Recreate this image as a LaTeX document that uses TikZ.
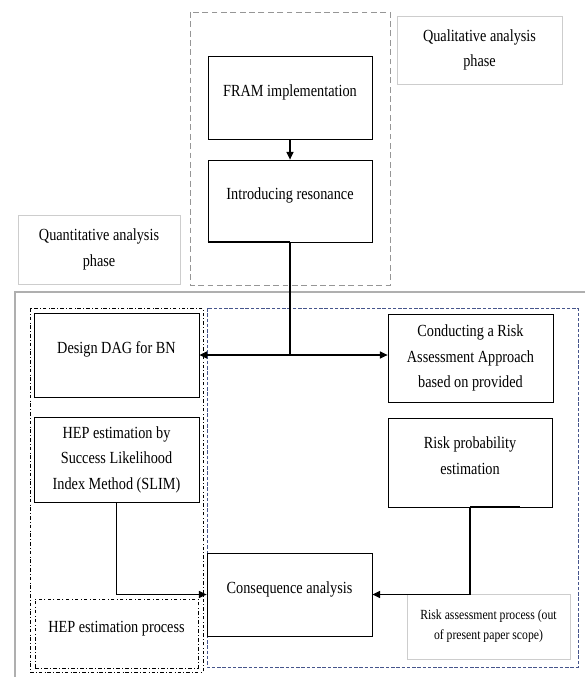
\documentclass[tikz,border=0pt]{standalone}
\usepackage{fontspec}
\setmainfont{Liberation Serif}[FakeStretch=0.84]
\usetikzlibrary{calc, arrows.meta}
\definecolor{framegray}{RGB}{150,150,150}
\definecolor{tagline}{RGB}{205,205,205}
\definecolor{outerline}{RGB}{175,175,175}
\definecolor{riskblue}{RGB}{70,85,140}

\begin{document}
\begin{tikzpicture}[x=0.03cm, y=-0.03cm,
    stepbox/.style={draw, line width=0.7pt, align=center, inner sep=2pt,
        font=\fontsize{14.5}{21.8}\selectfont},
    lift/.style={text depth=12pt},
    tagbox/.style={draw=tagline, line width=0.5pt, align=center, inner sep=2pt,
        font=\fontsize{14.5}{21.8}\selectfont},
    arr/.style={-{Triangle[length=6.5pt,width=6pt]}, line width=0.9pt}]
    \useasboundingbox (0,0) rectangle (585,677);
    \draw[framegray, dash pattern=on 5pt off 3pt, line width=0.8pt] (190,12) rectangle (390,285);
    \draw[outerline, line width=1pt] (585,292) -- (15,292) -- (15,677);
    \draw[dash dot, line width=0.6pt] (30,308) rectangle (203,672);
    \draw[riskblue, dash pattern=on 3pt off 1.5pt, line width=0.6pt] (207,308) rectangle (578,667);

    \node[tagbox, minimum width=4.95cm, minimum height=2.04cm] (qualtag) at (479.5,50) {Qualitative analysis\\phase};
    \node[tagbox, minimum width=4.86cm, minimum height=2.07cm] (quanttag) at (99,249.5) {Quantitative analysis\\phase};
    \node[stepbox, lift, minimum width=4.92cm, minimum height=2.49cm] (fram) at (290,97.5) {FRAM implementation};
    \node[stepbox, lift, minimum width=4.92cm, minimum height=2.46cm] (reson) at (290,201) {Introducing resonance};
    \node[stepbox, lift, minimum width=4.95cm, minimum height=2.52cm] (dag) at (116.5,355) {Design DAG for BN};
    \node[stepbox, minimum width=4.95cm, minimum height=2.55cm] (hep) at (116.5,459.5) {HEP estimation by\\Success Likelihood\\Index Method (SLIM)};
    \node[stepbox, lift, dash dot, line width=0.6pt, minimum width=4.89cm, minimum height=2.07cm] (heptag) at (116.5,633.5) {HEP estimation process};
    \node[stepbox, minimum width=4.95cm, minimum height=2.64cm] (cond) at (470.5,358) {Conducting a Risk\\Assessment Approach\\based on provided};
    \node[stepbox, lift, minimum width=4.92cm, minimum height=2.67cm] (prob) at (470,462.5) {Risk probability\\estimation};
    \node[stepbox, lift, minimum width=4.95cm, minimum height=2.49cm] (cons) at (289.5,594.5) {Consequence analysis};
    \node[tagbox, minimum width=4.89cm, minimum height=1.95cm, font=\fontsize{11.9}{17}\selectfont] (risktag) at (488.5,626.5) {Risk assessment process (out\\of present paper scope)};

    \coordinate (split) at (290,355);
    \draw[arr] (fram) -- (reson);
    \draw[line width=0.9pt] (reson.south) -- (split);
    \draw[arr] (split) -- (dag.east |- split);
    \draw[arr] (split) -- (cond.west |- split);
    \draw[arr] (hep.south) |- (cons.west);
    \draw[arr] (prob.south) |- (cons.east);
    \draw[line width=1.6pt] (reson.south west) -- (reson.south);
    \draw[line width=1.6pt] (prob.south) -- ++(50,0);
\end{tikzpicture}
\end{document}
